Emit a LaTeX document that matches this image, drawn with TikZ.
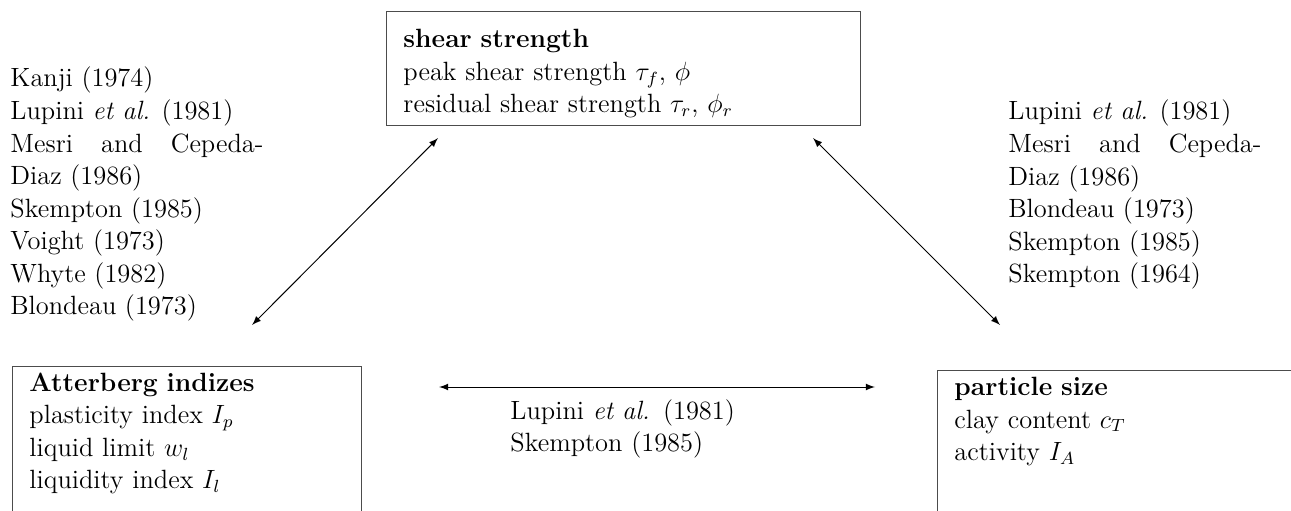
\documentclass[12pt,tikz,border=0pt]{standalone}
\usepackage{amssymb,amsmath}
\usepackage{tikz}
\usetikzlibrary{calc}

\begin{document}
\begin{tikzpicture}[x=0.4545pt,y=-0.4545pt,>=latex,
  every node/.style={font=\fontsize{12}{14.8}\selectfont},
  box/.style={draw=black!70,line width=0.5pt,anchor=north west,align=left,
    inner xsep=7.7pt,inner ysep=5.8pt},
  refs/.style={anchor=base west,inner sep=0pt,text width=115pt,align=justify},
  link/.style={<->,line width=0.45pt}]
  \useasboundingbox (0,0) rectangle (1291,511);
  \clip (0,0) rectangle (1291,511);

  % the three boxes
  \node[box,text width=200pt,text height=10.6pt,text depth=29.6pt] (shear) at (386,11)
    {\textbf{shear strength}\\
     peak shear strength $\tau_f$, $\phi$\\
     residual shear strength $\tau_r$, $\phi_r$};
  \node[box,text width=143.2pt,inner ysep=2pt,text height=9.2pt,text depth=70pt] (atter) at (12,366)
    {\textbf{Atterberg indizes}\\
     plasticity index $I_p$\\
     liquid limit $w_l$\\
     liquidity index $I_l$};
  \node[box,text width=170pt,inner ysep=3pt,text depth=80pt] (grain) at (937,370)
    {\textbf{particle size}\\
     clay content $c_T$\\
     activity $I_A$};

  % references
  \node[refs] (refleft) at (10,87)
    {Kanji (1974)\\
     Lupini \emph{et al.} (1981)\\
     Mesri and Cepeda-Diaz (1986)\\
     Skempton (1985)\\
     Voight (1973)\\
     Whyte (1982)\\
     Blondeau (1973)};
  \node[refs] (refright) at (1008,120)
    {Lupini \emph{et al.} (1981)\\
     Mesri and Cepeda-Diaz (1986)\\
     Blondeau (1973)\\
     Skempton (1985)\\
     Skempton (1964)};
  \node[refs,align=left] (refmid) at (510,419)
    {Lupini \emph{et al.} (1981)\\
     Skempton (1985)};

  % arrows between the boxes
  \coordinate (sl) at ($(shear.south west)+(52,12)$);
  \coordinate (sr) at ($(shear.south east)+(-48,12)$);
  \coordinate (al) at ($(atter.north east)+(-110,-41)$);
  \coordinate (ar) at ($(atter.north east)+(77,21)$);
  \coordinate (gl) at ($(grain.north west)+(-62,17)$);
  \coordinate (gt) at ($(grain.north west)+(63,-45)$);
  \draw[link] (sl) -- (al);
  \draw[link] (sr) -- (gt);
  \draw[link] (ar) -- (gl);
\end{tikzpicture}
\end{document}
